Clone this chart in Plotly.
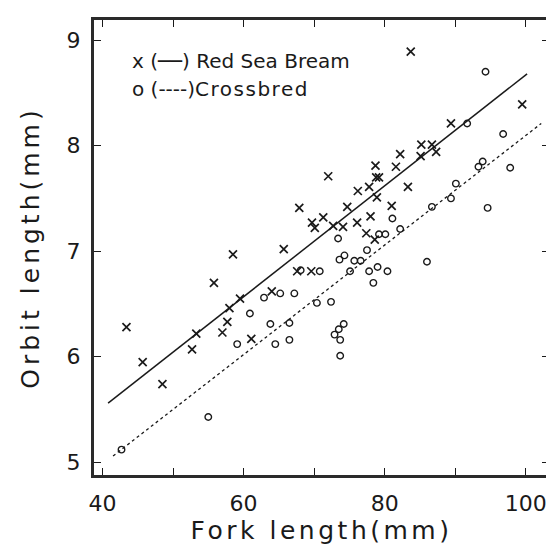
import plotly.graph_objects as go

# Red Sea Bream (x markers)
bream_fl = [43.4, 45.7, 48.5, 52.7, 53.3, 57.0, 57.7, 58.0, 59.5, 55.8, 58.5, 61.1, 64.0, 65.7, 67.6,
            69.6, 67.9, 72.0, 69.7, 70.1, 71.3, 72.7, 74.1, 74.7, 76.2, 76.1, 77.8, 78.0, 77.4, 78.6,
            78.9, 78.7, 78.8, 79.2, 81.0, 81.6, 82.2, 83.3, 85.1, 85.2, 86.7, 87.3, 89.4, 83.7, 99.5]
bream_ol = [6.28, 5.95, 5.74, 6.07, 6.22, 6.23, 6.33, 6.46, 6.55, 6.70, 6.97, 6.17, 6.62, 7.02, 6.81,
            6.81, 7.41, 7.71, 7.27, 7.22, 7.32, 7.24, 7.23, 7.42, 7.57, 7.27, 7.61, 7.33, 7.17, 7.11,
            7.51, 7.81, 7.70, 7.70, 7.43, 7.80, 7.92, 7.61, 7.90, 8.01, 8.01, 7.94, 8.21, 8.89, 8.39]

# Crossbred (o markers)
cross_fl = [42.7, 55.0, 59.1, 60.9, 62.9, 65.2, 67.2, 63.8, 64.5, 66.5, 66.5, 70.4, 72.4, 74.2, 73.5,
            72.9, 73.7, 73.7, 68.1, 70.8, 73.4, 74.3, 73.6, 75.7, 76.6, 75.1, 77.5, 77.8, 79.0, 78.4,
            80.4, 79.2, 80.1, 81.1, 82.2, 86.0, 86.7, 89.4, 90.1, 94.6, 93.3, 93.9, 97.8, 96.8, 91.7, 94.3]
cross_ol = [5.12, 5.43, 6.12, 6.41, 6.56, 6.60, 6.60, 6.31, 6.12, 6.32, 6.16, 6.51, 6.52, 6.31, 6.26,
            6.21, 6.16, 6.01, 6.82, 6.81, 7.12, 6.96, 6.92, 6.91, 6.91, 6.81, 7.01, 6.81, 6.85, 6.70,
            6.81, 7.16, 7.16, 7.31, 7.21, 6.90, 7.42, 7.50, 7.64, 7.41, 7.80, 7.85, 7.79, 8.11, 8.21, 8.70]

# Regression lines (end points)
bream_fit_fl = [40.8, 100.2]
bream_fit_ol = [5.56, 8.68]
cross_fit_fl = [41.5, 102.2]
cross_fit_ol = [5.06, 8.21]

x_tick_vals = [40, 50, 60, 70, 80, 90, 100]
x_tick_text = ["40", "", "60", "", "80", "", "100"]
y_tick_vals = [5, 6, 7, 8, 9]
y_tick_text = ["5", "6", "7", "8", "9"]

INK = "#1a1a1a"
FONT = "DejaVu Sans"

fig = go.Figure()
fig.add_trace(go.Scatter(x=bream_fit_fl, y=bream_fit_ol, mode="lines",
                         line=dict(color=INK, width=1.5), showlegend=False, hoverinfo="skip"))
fig.add_trace(go.Scatter(x=cross_fit_fl, y=cross_fit_ol, mode="lines",
                         line=dict(color=INK, width=1.3, dash="3px,3px"), showlegend=False, hoverinfo="skip"))
fig.add_trace(go.Scatter(x=bream_fl, y=bream_ol, mode="markers", name="Red Sea Bream",
                         marker=dict(symbol="x-thin-open", size=8, color=INK,
                                     line=dict(color=INK, width=1.7)), showlegend=False))
fig.add_trace(go.Scatter(x=cross_fl, y=cross_ol, mode="markers", name="Crossbred",
                         marker=dict(symbol="circle-open", size=6.5, color=INK,
                                     line=dict(color=INK, width=1.4)), showlegend=False))

axis_common = dict(showline=True, linecolor="#2a2a2a", linewidth=3, mirror="ticks",
                   ticks="inside", ticklen=7, tickwidth=1.4, tickcolor=INK,
                   showgrid=False, zeroline=False,
                   tickfont=dict(family=FONT, size=22, color=INK))

fig.update_xaxes(range=[38.8, 103.3], tickmode="array", tickvals=x_tick_vals, ticktext=x_tick_text,
                 ticklabelstandoff=7,
                 title=dict(text='<span style="letter-spacing:3.5px">Fork length(mm)</span>',
                            font=dict(family=FONT, size=25, color=INK), standoff=4),
                 **axis_common)
fig.update_yaxes(range=[4.88, 9.19], tickmode="array", tickvals=y_tick_vals, ticktext=y_tick_text,
                 ticklabelstandoff=6,
                 title=dict(text='<span style="letter-spacing:4px">Orbit length(mm)</span>',
                            font=dict(family=FONT, size=25, color=INK), standoff=20),
                 **axis_common)

fig.add_annotation(x=0.079, y=0.91, xref="paper", yref="paper", xanchor="left", yanchor="middle",
                   text="x (──) Red Sea Bream", showarrow=False,
                   font=dict(family=FONT, size=20, color=INK))
fig.add_annotation(x=0.079, y=0.849, xref="paper", yref="paper", xanchor="left", yanchor="middle",
                   text='o (----)<span style="letter-spacing:1.5px">Crossbred</span>', showarrow=False,
                   font=dict(family=FONT, size=20, color=INK))

fig.update_layout(width=554, height=545, margin=dict(l=86, r=13, t=9, b=78),
                  paper_bgcolor="white", plot_bgcolor="white")

fig.write_html("out.html")
